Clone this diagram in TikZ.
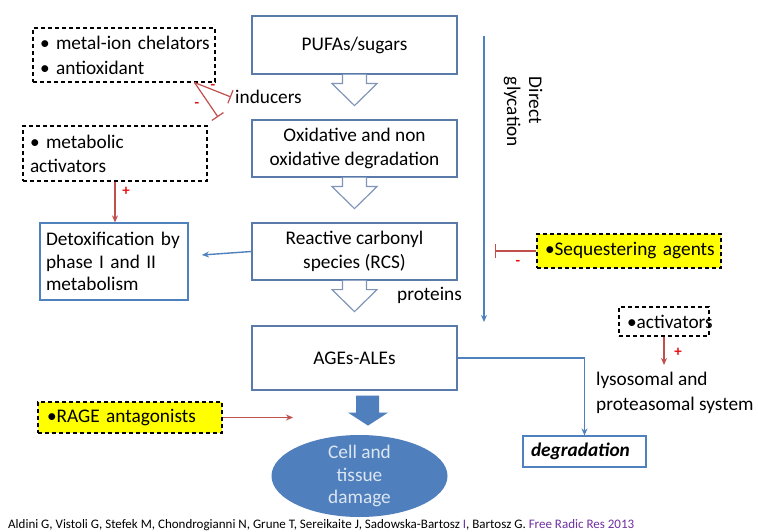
\documentclass[tikz,border=0pt]{standalone}
\usepackage{fontspec}
\setmainfont{Carlito}
\usetikzlibrary{arrows.meta,calc,shapes.geometric}
\definecolor{boxblue}{HTML}{5A7BAA}
\definecolor{lightblue}{HTML}{4F81BD}
\definecolor{arrowgray}{HTML}{8096B8}
\definecolor{redline}{HTML}{C0504D}
\definecolor{signred}{HTML}{E8100F}
\definecolor{ellblue}{HTML}{4F7FBC}
\definecolor{elltext}{HTML}{DCE6F2}
\definecolor{citepurple}{HTML}{7030A0}
\definecolor{hiyellow}{HTML}{FFFF00}
\begin{document}
\begin{tikzpicture}[x=1pt,y=-1pt,
  every node/.style={font=\fontsize{19.3}{23.5}\selectfont, text=black},
  mainbox/.style={draw=boxblue, line width=1.2pt, minimum width=205pt, inner sep=0pt, align=center},
  dbox/.style={draw=black, dash pattern=on 4pt off 3pt, line width=1.1pt, align=left, inner ysep=0pt},
  ybox/.style={dbox, fill=hiyellow},
  lbox/.style={draw=lightblue, line width=1.2pt, align=left, inner ysep=0pt},
  hollow/.style={draw=arrowgray, line width=1.2pt, fill=white, line join=miter},
  bluearrow/.style={draw=lightblue, line width=1.4pt, -{Stealth[length=7pt,width=6pt]}},
  redarrow/.style={draw=redline, line width=1.2pt, -{Stealth[length=7pt,width=6pt]}},
  inhib/.style={draw=redline, line width=1.2pt, -{Bar[width=14pt,line width=1.2pt]}},
  sign/.style={text=signred, font=\fontsize{15}{15}\selectfont\bfseries, inner sep=0pt},
  plain/.style={inner sep=0pt}
]
\fill[white] (0,0) rectangle (758,532);
\useasboundingbox (0,0) rectangle (758,532);

% main column
\node[mainbox, minimum height=58pt] (pufa) at (354.5,45) {PUFAs/sugars};
\node[mainbox, minimum height=57pt] (oxid) at (354.5,148.5) {Oxidative and non\\oxidative degradation};
\node[mainbox, minimum height=57pt] (rcs) at (354.5,251.5) {Reactive carbonyl\\species (RCS)};
\node[mainbox, minimum height=64pt] (ages) at (354.5,358) {AGEs-ALEs};

\foreach \a in {pufa,oxid,rcs}{
  \draw[hollow] ($(\a.south)+(-12,0)$) -- ++(0,9) -- ++(-10.5,0) -- ++(22.5,22) -- ++(22.5,-22) -- ++(-10.5,0) -- ++(0,-9);
}

% solid arrow and damage ellipse
\fill[ellblue] ($(ages.south)+(1.5,5)$) -- ($(ages.south)+(24.5,5)$) -- ($(ages.south)+(24.5,22)$) -- ($(ages.south)+(33.5,22)$) -- ($(ages.south)+(13.5,35)$) -- ($(ages.south)+(-6.5,22)$) -- ($(ages.south)+(1.5,22)$) -- cycle;
\node[ellipse, fill=ellblue, minimum width=176pt, minimum height=82pt, inner sep=0pt] (dmg) at (359.5,476) {};
\node[text=elltext, align=center, inner sep=0pt, font=\fontsize{19.3}{22.5}\selectfont] (dmgtext) at (dmg.center) {Cell and\\tissue\\damage};

% left side boxes
\node[dbox, minimum width=182pt, minimum height=54pt, text width=168pt, inner xsep=7pt, font=\fontsize{19.3}{25}\selectfont] (chel) at (124,55) {\mbox{• metal-ion chelators}\\\mbox{• antioxidant}};
\node[dbox, minimum width=184pt, minimum height=55pt, text width=170pt, inner xsep=7pt, font=\fontsize{19.3}{24}\selectfont] (metab) at (115,153.5) {\mbox{• metabolic}\\activators};
\node[lbox, minimum width=148pt, minimum height=77pt, text width=136pt, inner xsep=6pt, font=\fontsize{19.3}{22.5}\selectfont] (detox) at (114,261.5) {\mbox{Detoxification by}\\\mbox{phase I and II}\\metabolism};
\node[ybox, minimum width=184pt, minimum height=31pt, text width=166pt, inner xsep=9pt] (rage) at (130,417.5) {\mbox{•RAGE antagonists}};

% right side boxes
\node[ybox, minimum width=184pt, minimum height=34pt, text width=168pt, inner xsep=8pt] (seq) at (629,251) {\mbox{•Sequestering agents}};
\node[dbox, minimum width=90pt, minimum height=29pt, text width=74pt, inner xsep=8pt] (act) at (664,321.5) {\makebox[74pt][l]{•activators}};
\node[lbox, minimum width=123pt, minimum height=31pt, text width=107pt, inner xsep=8pt] (deg) at (584.5,451.5) {\textbf{\textit{degradation}}};

% free texts
\node[plain, anchor=west] (ind) at (235,97) {inducers};
\node[plain, anchor=west] (prot) at (397,295) {proteins};
\node[plain, anchor=west, align=left, font=\fontsize{19.3}{25}\selectfont] (lyso) at (596,392.5) {lysosomal and\\proteasomal system};
\node[plain, rotate=-90, align=left, font=\fontsize{19.3}{22}\selectfont] (dg) at (523,112) {Direct\\glycation};

% blue connectors
\coordinate (dgtop) at (484,36);
\coordinate (dgbot) at (484,322);
\draw[bluearrow] (dgtop) -- (dgbot);
\draw[bluearrow] (ages.east) -| (deg.north);
\coordinate (detoxin) at (202,255);
\draw[bluearrow] (rcs.west) -- (detoxin);

% red connectors
\draw[redarrow] (metab.south) -- (metab.south |- detox.north);
\coordinate (lysotop) at (664,365);
\draw[redarrow] (act.south) -- (lysotop);
\coordinate (ragetip) at (293,417.5);
\draw[redarrow] (rage.east) -- (ragetip);

% inhibitions
\coordinate (chelsrc) at ($(chel.south east)+(-21,0)$);
\draw[inhib] (chelsrc) -- ($(ind.west)+(-4,0)$);
\coordinate (inhB) at (218,117);
\draw[inhib] (chelsrc) -- (inhB);
\coordinate (seqbar) at (495,251);
\draw[inhib] (seq.west) -- (seqbar);

% signs
\node[sign] (s1) at (126,191) {+};
\node[sign] (s2) at (213,87) {-};
\node[sign] (s3) at (197,105) {-};
\node[sign] (s4) at (518,263) {-};
\node[sign] (s5) at (678,352) {+};

% citation
\node[plain, anchor=west, font=\fontsize{13}{13}\selectfont] (cite) at (8,525) {Aldini G, Vistoli G, Stefek M, Chondrogianni N, Grune T, Sereikaite J, Sadowska-Bartosz \textcolor{citepurple}{I}, Bartosz G. \textcolor{citepurple}{Free Radic Res 2013}};
\end{tikzpicture}
\end{document}
